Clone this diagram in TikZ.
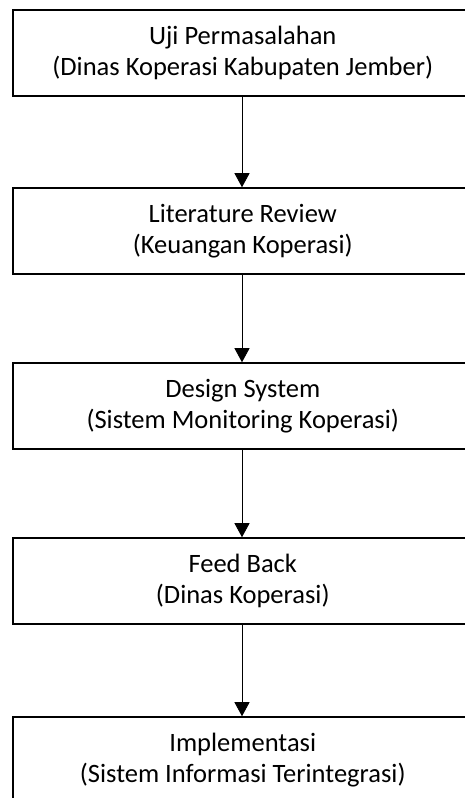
\documentclass[tikz,border=0pt]{standalone}
\usepackage{fontspec}
\setmainfont{Carlito}
\usetikzlibrary{arrows.meta}

\newcommand{\isitahap}[1]{\parbox{460pt}{\centering #1}\hspace*{40pt}}

\begin{document}
\begin{tikzpicture}[x=1pt,y=1pt,
  tahap/.style={draw, line width=1.5pt, minimum width=500pt, minimum height=86pt, inner sep=0pt, anchor=west, font=\fontsize{26.5}{31}\selectfont},
  panah/.style={line width=0.9pt, -{Triangle[length=14pt,width=15pt]}}]
\path[use as bounding box, clip] (0,0) rectangle (465,798);
\node[tahap] (uji) at (12,745) {\isitahap{Uji Permasalahan\\(Dinas Koperasi Kabupaten Jember)}};
\node[tahap] (lit) at (12,567) {\isitahap{Literature Review\\(Keuangan Koperasi)}};
\node[tahap] (des) at (12,392) {\isitahap{Design System\\(Sistem Monitoring Koperasi)}};
\node[tahap] (fb) at (12,217) {\isitahap{Feed Back\\(Dinas Koperasi)}};
\node[tahap] (imp) at (12,38) {\isitahap{Implementasi\\(Sistem Informasi Terintegrasi)}};
% panah di tengah teks, bukan di tengah kotak
\draw[panah] ([xshift=230pt]uji.south west) -- ([xshift=230pt]lit.north west);
\draw[panah] ([xshift=230pt]lit.south west) -- ([xshift=230pt]des.north west);
\draw[panah] ([xshift=230pt]des.south west) -- ([xshift=230pt]fb.north west);
\draw[panah] ([xshift=230pt]fb.south west) -- ([xshift=230pt]imp.north west);
\end{tikzpicture}
\end{document}
